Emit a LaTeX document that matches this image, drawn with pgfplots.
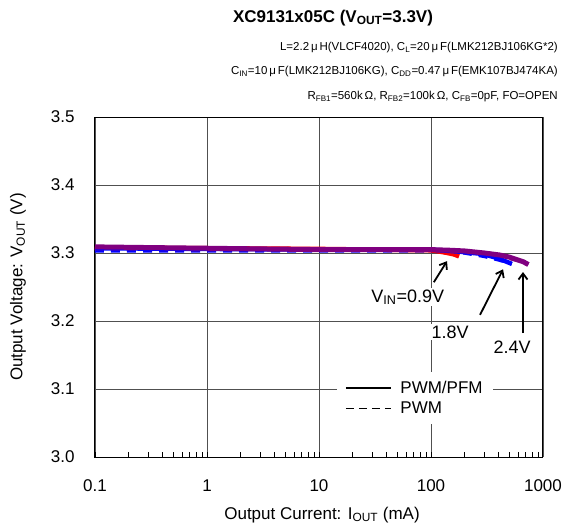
\documentclass[border=0pt]{standalone}
\usepackage{pgfplots}
\pgfplotsset{compat=1.18}
\usetikzlibrary{arrows.meta}
\usepackage{fontspec}
\setmainfont{Liberation Sans}
\definecolor{myred}{RGB}{255,0,0}
\definecolor{myblue}{RGB}{0,0,255}
\definecolor{mypurple}{RGB}{128,0,128}
\definecolor{gridc}{RGB}{80,80,80}
\begin{document}
\begin{tikzpicture}[x=1pt,y=1pt]
\useasboundingbox (-95,-73) rectangle (474,457);
\begin{axis}[
  at={(0,0)}, anchor=south west,
  scale only axis, width=448pt, height=340pt,
  xmode=log, xmin=0.1, xmax=1000, ymin=3.0, ymax=3.5,
  xtick={0.1,1,10,100,1000}, xticklabels={0.1,1,10,100,1000},
  ytick={3.0,3.1,3.2,3.3,3.4,3.5}, yticklabels={3.0,3.1,3.2,3.3,3.4,3.5},
  grid=major, major grid style={gridc, line width=0.8pt},
  axis line style={black, line width=1pt},
  tick align=inside, xtick pos=bottom, ytick pos=left,
  major tick length=0pt, minor tick length=5pt,
  minor tick style={black, line width=0.7pt},
  every y tick/.style={draw=none},
  ticklabel style={font=\fontsize{17}{19}\selectfont},
  xticklabel style={yshift=-19pt},
  yticklabel style={xshift=-17pt},
  /pgf/number format/assume math mode=true,
  legend style={at={(0.54,0.25)}, anchor=north west, draw=none, fill=white,
    font=\fontsize{17}{19}\selectfont, row sep=3pt, inner xsep=8pt, inner ysep=7pt},
  legend image code/.code={\draw[#1] (0pt,0pt) -- (45pt,0pt); \path (52pt,0pt);},
  legend cell align=left,
  clip=true,
]
% PWM (dashed)
\addplot[myred, line width=3.5pt, dash pattern=on 9pt off 7pt, forget plot] coordinates {
(0.1,3.307)(1,3.307)(10,3.306)(100,3.304)(140,3.301)(178,3.295)};
\addplot[myblue, line width=3.5pt, dash pattern=on 9pt off 7pt, forget plot] coordinates {
(0.1,3.303)(1,3.303)(10,3.303)(100,3.303)(200,3.300)(300,3.295)(400,3.290)(527,3.284)};
\addplot[mypurple, line width=3.5pt, dash pattern=on 9pt off 7pt, forget plot] coordinates {
(0.1,3.306)(1,3.305)(10,3.305)(100,3.304)(200,3.301)(400,3.296)(600,3.289)(740,3.283)};
% PWM/PFM (solid)
\addplot[myred, line width=4.5pt, forget plot] coordinates {
(0.1,3.308)(1,3.307)(10,3.306)(100,3.304)(120,3.302)(140,3.300)(160,3.298)(178,3.295)};
\addplot[myblue, line width=4.5pt, forget plot] coordinates {
(0.1,3.307)(1,3.306)(10,3.305)(100,3.305)(180,3.302)(274,3.299)(330,3.296)(400,3.292)(460,3.288)(527,3.284)};
\addplot[mypurple, line width=5pt, forget plot] coordinates {
(0.1,3.309)(0.3,3.308)(1,3.307)(3,3.306)(10,3.305)(30,3.305)(100,3.305)(150,3.304)(200,3.303)(300,3.300)(413,3.297)(500,3.294)(590,3.290)(670,3.287)(740,3.283)};
\addlegendimage{black, line width=1.3pt}
\addlegendentry{PWM/PFM}
\addlegendimage{black, line width=1.3pt, dash pattern=on 8pt off 5pt}
\addlegendentry{PWM}
% annotations
\draw[-{Straight Barb[length=6pt,width=9pt]}, line width=1.8pt] (axis cs:106,3.257) -- (axis cs:139,3.288);
\draw[-{Straight Barb[length=6pt,width=9pt]}, line width=1.8pt] (axis cs:274,3.209) -- (axis cs:440,3.276);
\draw[-{Straight Barb[length=6pt,width=9pt]}, line width=1.8pt] (axis cs:663,3.182) -- (axis cs:663,3.272);
\node[fill=white, inner sep=1.5pt, font=\fontsize{18}{20}\selectfont] at (axis cs:62,3.235) {V\textsubscript{IN}=0.9V};
\node[fill=white, inner sep=1.5pt, font=\fontsize{18}{20}\selectfont] at (axis cs:148,3.184) {1.8V};
\node[fill=white, inner sep=1.5pt, font=\fontsize{18}{20}\selectfont] at (axis cs:529,3.162) {2.4V};
\end{axis}
\node[font=\bfseries\fontsize{17}{20}\selectfont] at (238,439) {XC9131x05C (V\textsubscript{OUT}=3.3V)};
\node[anchor=east, font=\fontsize{11.5}{14}\selectfont, inner sep=0pt] at (463,409) {L=2.2\,μ\,H(VLCF4020), C\textsubscript{L}=20\,μ\,F(LMK212BJ106KG*2)};
\node[anchor=east, font=\fontsize{11.5}{14}\selectfont, inner sep=0pt] at (463,385) {C\textsubscript{IN}=10\,μ\,F(LMK212BJ106KG), C\textsubscript{DD}=0.47\,μ\,F(EMK107BJ474KA)};
\node[anchor=east, font=\fontsize{11.5}{14}\selectfont, inner sep=0pt] at (463,360) {R\textsubscript{FB1}=560k\,Ω, R\textsubscript{FB2}=100k\,Ω, C\textsubscript{FB}=0pF, FO=OPEN};
\node[rotate=90, font=\fontsize{17}{19}\selectfont] at (-77,170) {Output Voltage: V\textsubscript{OUT} (V)};
\node[font=\fontsize{17}{19}\selectfont] at (227,-58) {Output Current: I\textsubscript{OUT} (mA)};
\end{tikzpicture}
\end{document}
